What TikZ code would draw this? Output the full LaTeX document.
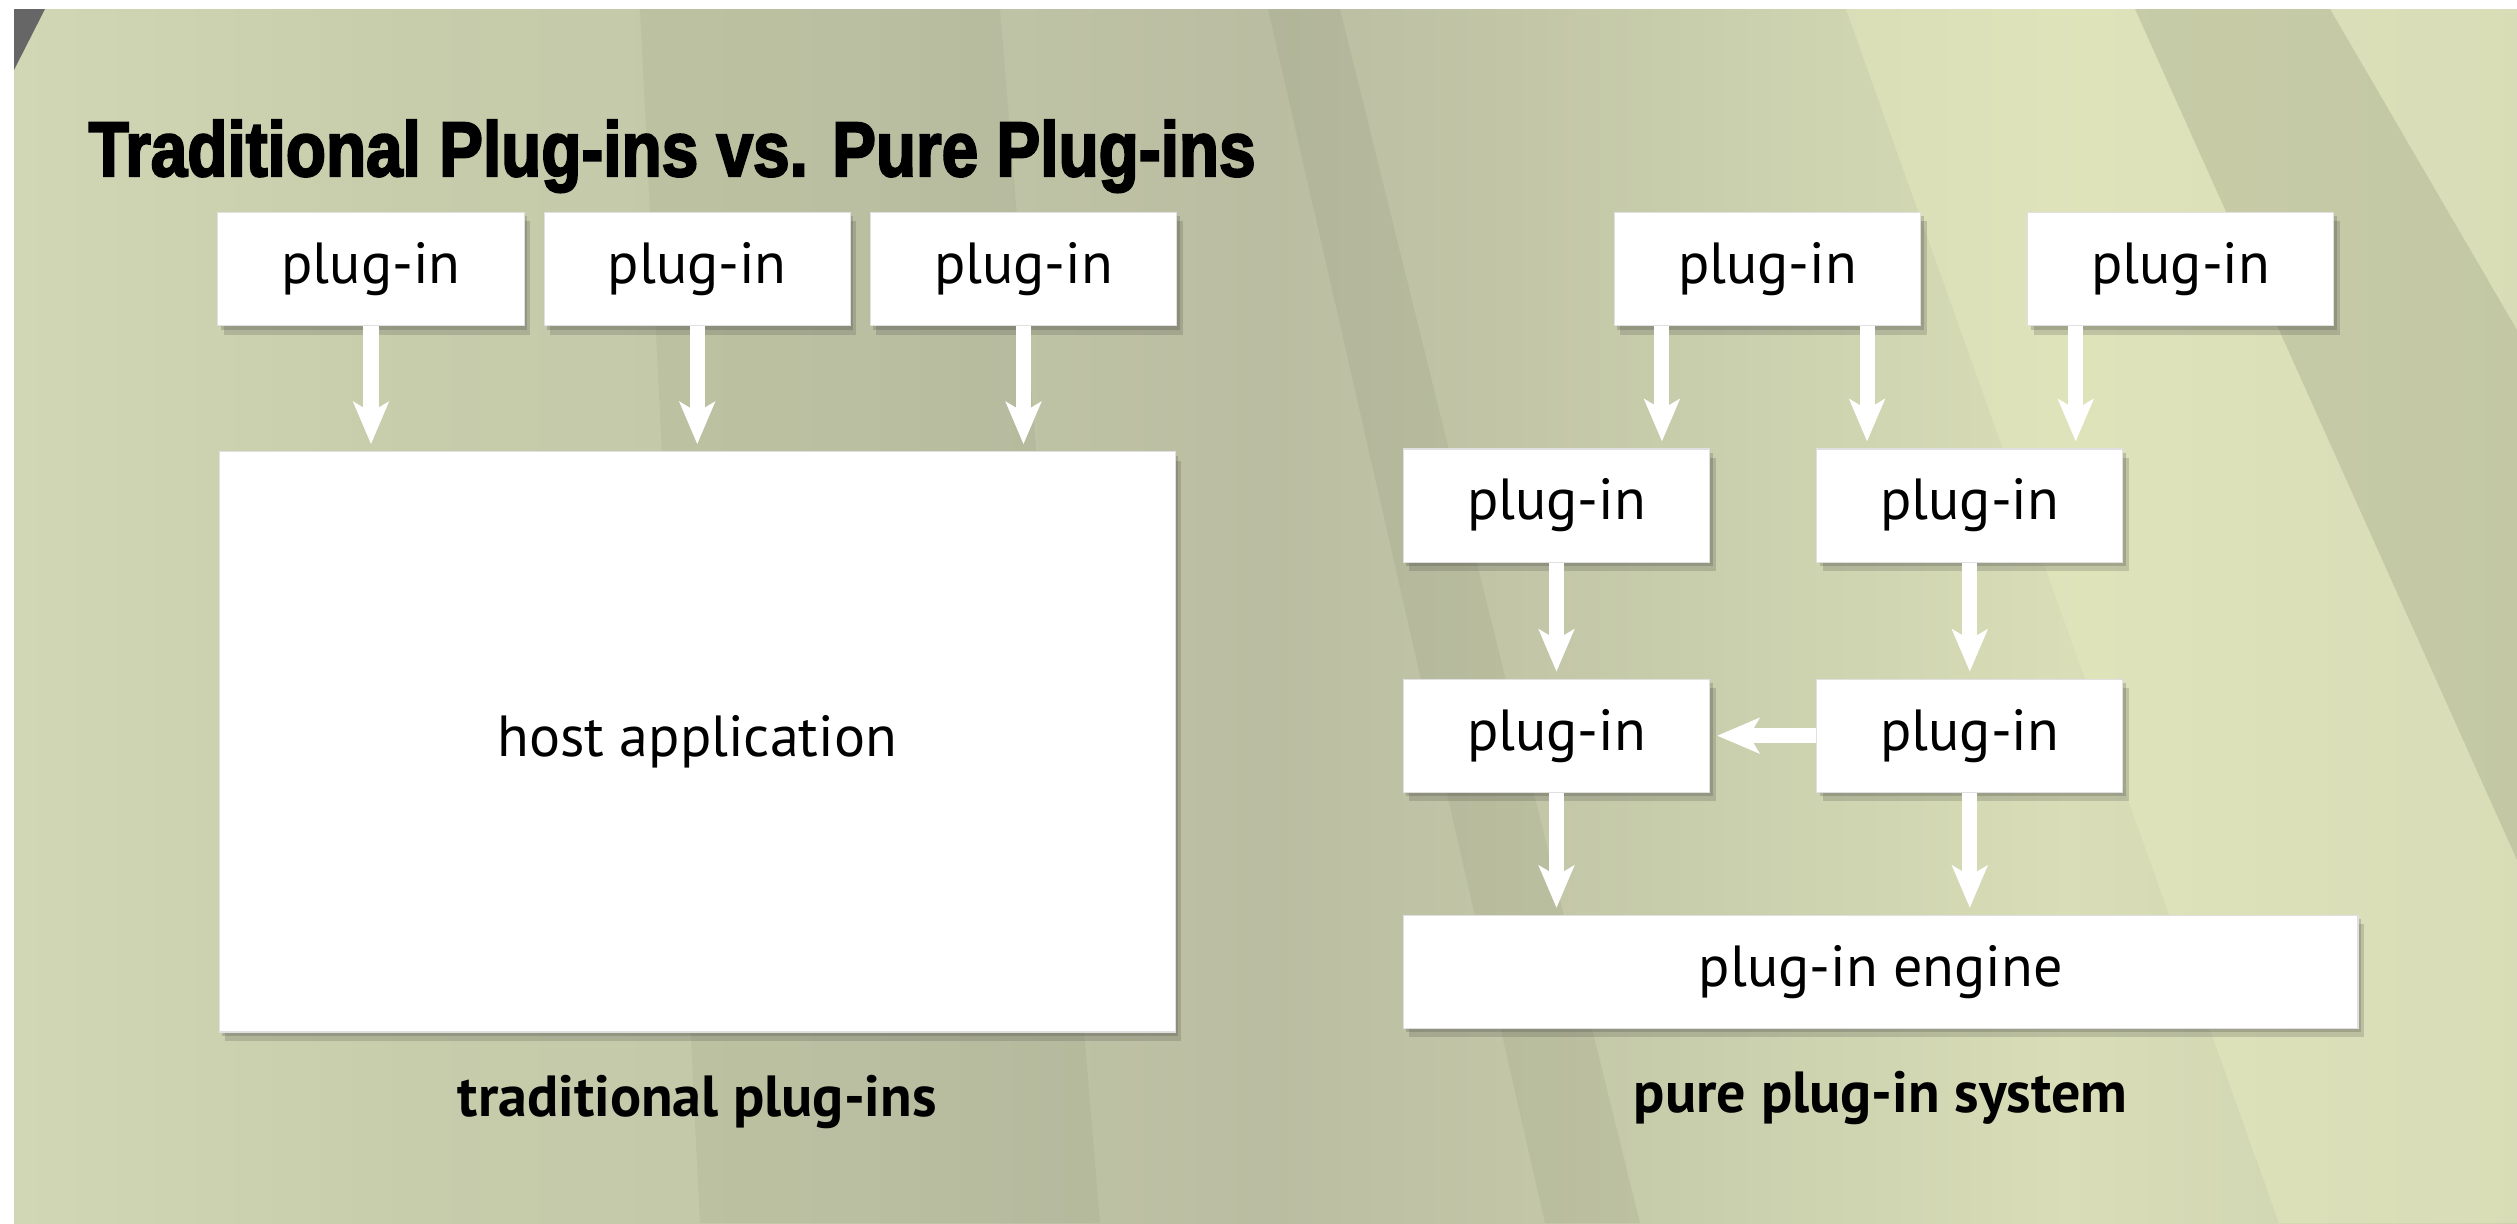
\documentclass[tikz,border=0pt]{standalone}
\usepackage{fontspec}
\setmainfont{PT Sans}
\newfontfamily\titlefont[FakeBold=3]{Liberation Sans}
\usepackage{graphicx}
\usepackage{tikz}
\usetikzlibrary{arrows.meta, positioning, calc, shadows}
\definecolor{streak}{RGB}{120,125,100}
\definecolor{lightband}{RGB}{228,232,190}
\pgfdeclarehorizontalshading{greenbg}{100bp}{rgb(0bp)=(0.82,0.84,0.71); rgb(25bp)=(0.82,0.84,0.71); rgb(33bp)=(0.78,0.80,0.67); rgb(42bp)=(0.76,0.78,0.66); rgb(50bp)=(0.73,0.74,0.63); rgb(58bp)=(0.78,0.80,0.67); rgb(66bp)=(0.85,0.87,0.72); rgb(75bp)=(0.80,0.82,0.69); rgb(100bp)=(0.80,0.82,0.69)}

\begin{document}
\begin{tikzpicture}[x=0.01cm, y=-0.01cm,
  >={Stealth[length=4.2mm, width=3.5mm, inset=1mm]},
  plugbox/.style={fill=white, draw=black!12, line width=0.3pt, minimum width=3.06cm,
    minimum height=1.13cm, inner sep=0pt, font=\fontsize{16.5}{20}\selectfont,
    drop shadow={shadow xshift=0.6mm, shadow yshift=-0.9mm, opacity=0.18, fill=black!80},
    drop shadow={shadow xshift=0.3mm, shadow yshift=-0.4mm, opacity=0.2, fill=black!80}},
  flowarrow/.style={->, draw=white, line width=1.5mm, shorten >=0.7mm},
  syslbl/.style={font=\bfseries\fontsize{16.5}{20}\selectfont, inner sep=0pt}
]
\useasboundingbox (0,0) rectangle (2517,1223);
\fill[white] (0,0) rectangle (2517,1223);
\shade[shading=greenbg] (14,9) rectangle (2517,1223);
\fill[lightband, opacity=0.55] (1846,9) -- (2517,9) -- (2517,1223) -- (2279,1223) -- cycle;
\fill[streak, opacity=0.22] (2135,9) -- (2330,9) -- (2517,330) -- (2517,860) -- cycle;
\fill[streak, opacity=0.12] (1268,9) -- (1340,9) -- (1640,1223) -- (1545,1223) -- cycle;
\fill[streak, opacity=0.10] (640,9) -- (1000,9) -- (1100,1223) -- (700,1223) -- cycle;
\fill[gray!80!black] (14,9) -- (45,9) -- (14,70) -- cycle;

\node[anchor=base west, inner sep=0pt] (title) at (88,176)
  {\resizebox{11.66cm}{0.56cm}{\titlefont\bfseries Traditional Plug-ins vs. Pure Plug-ins}};

\node[plugbox] (tp1) at (371,269) {plug-in};
\node[plugbox, right=0.19cm of tp1] (tp2) {plug-in};
\node[plugbox, right=0.19cm of tp2] (tp3) {plug-in};
\node[plugbox, minimum width=9.55cm, minimum height=5.8cm, below=1.25cm of tp2] (host) {host application};
\node[syslbl, below=0.84cm of host, anchor=base] (tradlbl) {traditional plug-ins};

\node[plugbox] (pa) at (1767.5,269) {plug-in};
\node[plugbox, right=1.06cm of pa] (pb) {plug-in};
\node[plugbox] (pc) at (1556.5,505.5) {plug-in};
\node[plugbox, right=1.06cm of pc] (pd) {plug-in};
\node[plugbox, below=1.16cm of pc] (pe) {plug-in};
\node[plugbox, below=1.16cm of pd] (pf) {plug-in};
\node[plugbox, minimum width=9.54cm, below=1.22cm of pe.south west, anchor=north west] (engine) {plug-in engine};
\node[syslbl, below=0.83cm of engine, anchor=base] (purelbl) {pure plug-in system};

\draw[flowarrow] (tp1) -- (tp1 |- host.north);
\draw[flowarrow] (tp2) -- (tp2 |- host.north);
\draw[flowarrow] (tp3) -- (tp3 |- host.north);

\draw[flowarrow] ([xshift=-1.055cm]pa.south) -- ([xshift=-1.055cm]pa.south |- pc.north);
\draw[flowarrow] ([xshift=0.995cm]pa.south) -- ([xshift=0.995cm]pa.south |- pd.north);
\draw[flowarrow] ([xshift=-1.05cm]pb.south) -- ([xshift=-1.05cm]pb.south |- pd.north);
\draw[flowarrow] (pc) -- (pe);
\draw[flowarrow] (pd) -- (pf);
\draw[flowarrow] (pf) -- (pe);
\draw[flowarrow] (pe) -- (pe |- engine.north);
\draw[flowarrow] (pf) -- (pf |- engine.north);
\end{tikzpicture}
\end{document}
